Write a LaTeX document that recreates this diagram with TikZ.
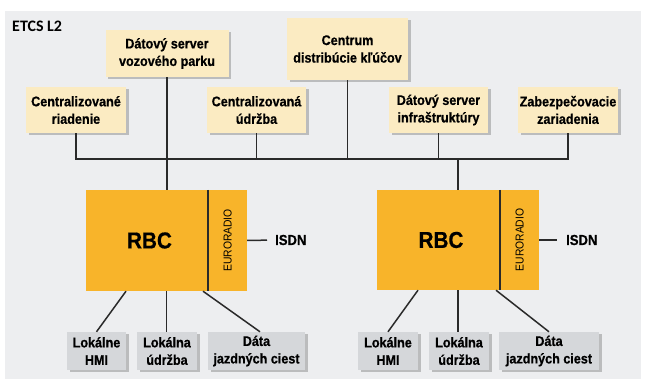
\documentclass[tikz,border=0pt]{standalone}
\usepackage{fontspec}
\setmainfont{Liberation Sans}[FakeStretch=0.9, BoldFeatures={FakeBold=0.6}]
\newfontfamily\titlefont{Carlito}
\usetikzlibrary{shadows}
\definecolor{bgc}{HTML}{EDEEF0}
\definecolor{creamc}{HTML}{FBEBC2}
\definecolor{orangec}{HTML}{F8B42A}
\definecolor{grayc}{HTML}{D5D7DA}
\definecolor{linec}{HTML}{2A2A2A}
\begin{document}
\begin{tikzpicture}[x=1pt,y=-1pt,
  conn/.style={draw=linec, line width=1.5pt},
  shad/.style={drop shadow={shadow xshift=2.5pt, shadow yshift=-2.5pt, fill=black!50, opacity=0.45}},
  cream/.style={fill=creamc, shad, inner sep=0pt, align=center, font=\bfseries\fontsize{14}{17.5}\selectfont},
  graybox/.style={fill=grayc, shad, inner sep=0pt, align=center, minimum height=38pt, font=\bfseries\fontsize{14}{17.5}\selectfont},
  rbcbox/.style={fill=orangec, draw=none, inner sep=0pt},
  rbclabel/.style={font=\bfseries\fontsize{23}{25}\selectfont, inner sep=0pt},
  erlabel/.style={rotate=90, font=\fontsize{11.5}{12}\selectfont, inner sep=0pt},
  isdnlabel/.style={anchor=west, inner sep=0pt, font=\bfseries\fontsize{14.5}{16}\selectfont}]
\useasboundingbox (0,0) rectangle (646,379);
\fill[bgc] (5,11) rectangle (641,379);
\node[anchor=west, inner sep=0pt, font=\titlefont\bfseries\fontsize{16}{17}\selectfont] (title) at (12,26.5) {ETCS L2};

% top boxes
\node[cream, minimum width=123pt, minimum height=47pt] (dsv) at (167,53.5) {Dátový server\\vozového parku};
\node[cream, minimum width=121pt, minimum height=62pt] (ckd) at (347.5,49) {Centrum\\distribúcie kľúčov};
\node[cream, minimum width=100pt, minimum height=46pt] (cr) at (76,110) {Centralizované\\riadenie};
\node[cream, minimum width=99pt, minimum height=46pt] (cu) at (256.5,110) {Centralizovaná\\údržba};
\node[cream, minimum width=99pt, minimum height=46pt] (dsi) at (438.5,110) {Dátový server\\infraštruktúry};
\node[cream, minimum width=100pt, minimum height=46pt] (zz) at (568,110) {Zabezpečovacie\\zariadenia};

% RBC blocks
\node[rbcbox, minimum width=161pt, minimum height=101pt] (rbc1) at (166.5,240.5) {};
\node[rbclabel] (rbct1) at ([xshift=-17pt]rbc1.center) {RBC};
\node[erlabel] (er1) at ([xshift=-19.5pt]rbc1.east) {EURORADIO};
\draw[conn] ([xshift=-39pt]rbc1.north east) -- ([xshift=-39pt]rbc1.south east);

\node[rbcbox, minimum width=162pt, minimum height=100pt] (rbc2) at (458,240) {};
\node[rbclabel] (rbct2) at ([xshift=-17pt]rbc2.center) {RBC};
\node[erlabel] (er2) at ([xshift=-19.5pt]rbc2.east) {EURORADIO};
\draw[conn] ([xshift=-39pt]rbc2.north east) -- ([xshift=-39pt]rbc2.south east);

% ISDN
\node[isdnlabel] (isdn1) at (275,240) {ISDN};
\node[isdnlabel] (isdn2) at (566,240) {ISDN};
\draw[conn, shorten >=8pt] (rbc1.east) -- (isdn1.west);
\draw[conn, shorten >=9pt] (rbc2.east) -- (isdn2.west);

% bottom boxes
\node[graybox, minimum width=59pt] (hmi1) at (96.5,351) {Lokálne\\HMI};
\node[graybox, minimum width=60pt] (ud1) at (167,351) {Lokálna\\údržba};
\node[graybox, minimum width=97pt] (dj1) at (256.5,351) {Dáta\\jazdných ciest};
\node[graybox, minimum width=60pt] (hmi2) at (388,351) {Lokálne\\HMI};
\node[graybox, minimum width=60pt] (ud2) at (459,351) {Lokálna\\údržba};
\node[graybox, minimum width=100pt] (dj2) at (549,351) {Dáta\\jazdných ciest};

% bus
\coordinate (busL) at (76,159);
\coordinate (busR) at (568,159);
\draw[conn] (cr.south) -- (busL) -- (busR) -- (zz.south);
\draw[conn] (cu.south) -- (cu.south |- busL);
\draw[conn] (ckd.south) -- (ckd.south |- busL);
\draw[conn] (dsi.south) -- (dsi.south |- busL);
\draw[conn] (dsv.south) -- (dsv.south |- rbc1.north);
\draw[conn] (rbc2.north |- busL) -- (rbc2.north);

% RBC to local
\draw[conn] ([xshift=-40.5pt]rbc1.south) -- (hmi1.north);
\draw[conn] (rbc1.south) -- (rbc1.south |- ud1.north);
\draw[conn] ([xshift=36.5pt]rbc1.south) -- ([xshift=3.5pt]dj1.north);
\draw[conn] ([xshift=-40pt]rbc2.south) -- (hmi2.north);
\draw[conn] (rbc2.south) -- (rbc2.south |- ud2.north);
\draw[conn] ([xshift=38pt]rbc2.south) -- (dj2.north);
\end{tikzpicture}
\end{document}
